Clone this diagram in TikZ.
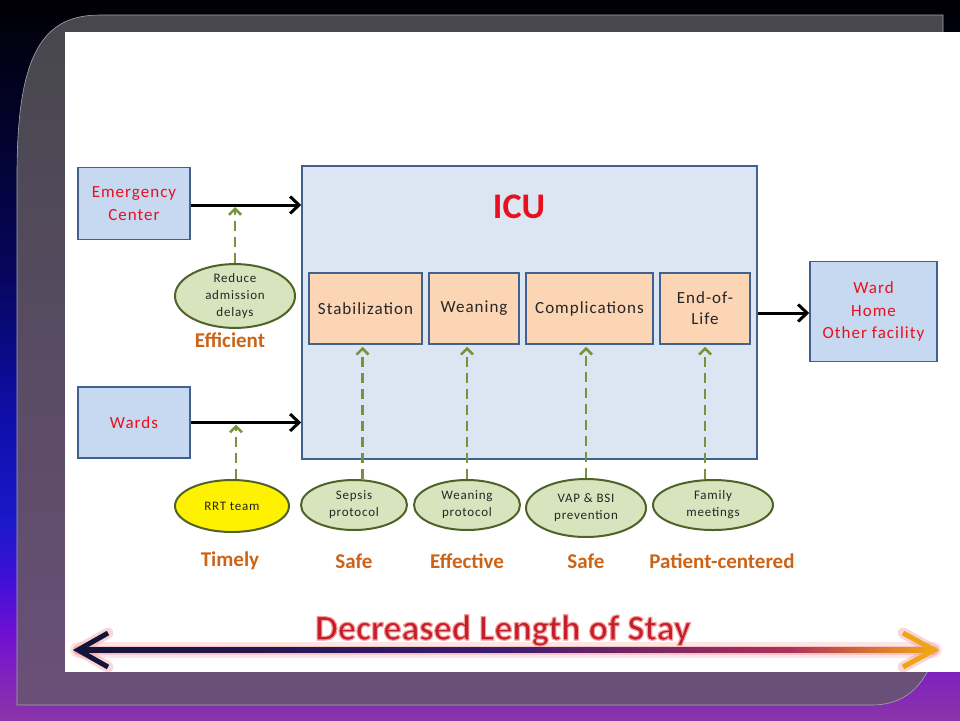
\documentclass[tikz,border=0pt]{standalone}
\usepackage{fontspec}
\setmainfont{Carlito}
\newfontfamily\spaced[LetterSpace=6]{Carlito}
\usetikzlibrary{arrows.meta,shapes.geometric,calc}
\definecolor{bg0}{HTML}{000005}
\definecolor{bg1}{HTML}{030330}
\definecolor{bg2}{HTML}{06065E}
\definecolor{bg3}{HTML}{0E0EA8}
\definecolor{bg4}{HTML}{1A18C8}
\definecolor{bg5}{HTML}{4010D8}
\definecolor{bg6}{HTML}{7010D0}
\definecolor{bg7}{HTML}{8020C0}
\definecolor{bg8}{HTML}{8A35A8}
\definecolor{frtop}{HTML}{47474D}
\definecolor{frmid}{HTML}{4A4A66}
\definecolor{frbot}{HTML}{6A5079}
\definecolor{boxline}{HTML}{41618F}
\definecolor{boxblue}{HTML}{C6D9F1}
\definecolor{icublue}{HTML}{DCE6F2}
\definecolor{peach}{HTML}{FCD5B5}
\definecolor{boxred}{HTML}{E8101E}
\definecolor{olive}{HTML}{4F6228}
\definecolor{ellgreen}{HTML}{D7E4BD}
\definecolor{dashgreen}{HTML}{77933C}
\definecolor{lblorange}{HTML}{CC6418}
\definecolor{navyA}{HTML}{14143A}
\definecolor{purpleA}{HTML}{3A1C6E}
\definecolor{magA}{HTML}{B0305A}
\definecolor{orangeA}{HTML}{F0A418}
\definecolor{glowpink}{HTML}{F08C8C}
\definecolor{dlsred}{HTML}{C41E2A}
\begin{document}
\begin{tikzpicture}[x=1pt,y=-1pt,
  bluebox/.style={draw=boxline, fill=boxblue, line width=1.5pt, text=boxred,
    font=\spaced\fontsize{17}{22.5}\selectfont, align=center, inner sep=0pt},
  stagebox/.style={draw=boxline, fill=peach, line width=1.5pt, text=black!85,
    font=\spaced\fontsize{17}{21}\selectfont, align=center, inner sep=0pt,
    minimum height=71pt},
  ell/.style={ellipse, draw=olive, fill=ellgreen, line width=2pt, inner sep=0pt,
    font=\spaced\fontsize{13}{17}\selectfont, align=center, text=black!85},
  barrow/.style={line width=3pt, -{Straight Barb[length=9pt,width=17pt]}},
  garrow/.style={dashgreen, line width=2.5pt, dash pattern=on 10pt off 6pt,
    -{Straight Barb[length=6pt,width=12pt]}, shorten >=2pt},
  qlabel/.style={font=\bfseries\fontsize{21}{24}\selectfont, text=lblorange}
]
\useasboundingbox (0,0) rectangle (960,720);
% background bands
\shade[top color=bg0, bottom color=bg1] (0,0) rectangle (960,140.5);
\shade[top color=bg1, bottom color=bg2] (0,140) rectangle (960,275.5);
\shade[top color=bg2, bottom color=bg3] (0,275) rectangle (960,413.5);
\shade[top color=bg3, bottom color=bg4] (0,413) rectangle (960,520.5);
\shade[top color=bg4, bottom color=bg5] (0,520) rectangle (960,580.5);
\shade[top color=bg5, bottom color=bg6] (0,580) rectangle (960,635.5);
\shade[top color=bg6, bottom color=bg7] (0,635) rectangle (960,672.5);
\shade[top color=bg7, bottom color=bg8] (0,672) rectangle (960,720);
% frame
\shade[top color=frtop, middle color=frmid, bottom color=frbot, draw=gray!70, line width=0.6pt]
  (17,705) -- (17,175) .. controls (17,55) and (42,15) .. (100,15) -- (943,15)
  -- (943,590) .. controls (943,660) and (922,705) .. (872,705) -- cycle;
% slide
\fill[white] (65,32) rectangle (960,672);

% boxes
\node[bluebox, minimum width=112pt, minimum height=72pt] (ec) at (134,203.5) {Emergency\\Center};
\node[bluebox, minimum width=112pt, minimum height=71pt] (wards) at (134,422.5) {Wards};
\node[draw=boxline, fill=icublue, line width=1.5pt, minimum width=455pt, minimum height=293pt, inner sep=0pt] (icu) at (529.5,312.5) {};
\node[font=\bfseries\fontsize{36}{40}\selectfont, text=boxred] (icut) at (519,207) {ICU};
\node[bluebox, minimum width=127pt, minimum height=100pt] (out) at (873.5,311.5) {Ward\\Home\\Other facility};

\node[stagebox, minimum width=113pt] (stab) at (365.5,308.5) {Stabilization};
\node[stagebox, minimum width=90pt] (wean) at (474,308.5) {Weaning};
\node[stagebox, minimum width=127pt] (comp) at (589.5,308.5) {Complications};
\node[stagebox, minimum width=90pt] (endl) at (705,308.5) {End-of-\\Life};

% ellipses
\node[ell, minimum width=120pt, minimum height=60pt] (red) at (235,296) {Reduce\\admission\\delays};
\node[ell, fill=yellow, minimum width=114pt, minimum height=52pt] (rrt) at (232,506) {RRT team};
\node[ell, minimum width=106pt, minimum height=50pt] (sep) at (354,505) {Sepsis\\protocol};
\node[ell, minimum width=106pt, minimum height=50pt] (wp) at (467,505) {Weaning\\protocol};
\node[ell, minimum width=120pt, minimum height=58pt] (vap) at (586,508) {VAP \& BSI\\prevention};
\node[ell, minimum width=120pt, minimum height=50pt] (fam) at (713,505) {Family\\meetings};

% black arrows
\draw[barrow] ([yshift=-1.5pt]ec.east) -- ([yshift=-1.5pt]ec.east -| icu.west);
\draw[barrow] (wards.east) -- (wards.east -| icu.west);
\draw[barrow] ([yshift=-1.5pt]icu.east |- out.west) -- ([yshift=-1.5pt]out.west);

% dashed arrows
\draw[garrow] (red.north) -- ([yshift=-1.5pt]red.north |- ec.east);
\draw[garrow] ($(rrt.north)+(4,0)$) -- ($(rrt.north |- wards.east)+(4,0)$);
\draw[garrow] ($(stab.south |- sep.north)+(-3,0)$) -- ($(stab.south)+(-3,0)$);
\draw[garrow] (wp.north) -- (wp.north |- wean.south);
\draw[garrow] (vap.north) -- (vap.north |- comp.south);
\draw[garrow] (endl.south |- fam.north) -- (endl.south);

% quality labels
\node[qlabel] (effi) at (230,340) {Efficient};
\node[qlabel] (time) at (230,561) {Timely};
\node[qlabel] (safe1) at (354,561) {Safe};
\node[qlabel] (effe) at (467,561) {Effective};
\node[qlabel] (safe2) at (586,561) {Safe};
\node[qlabel] (pcen) at (722,561) {Patient-centered};

% bottom double arrow
\coordinate (dl) at (78,650);
\coordinate (dr) at (934,650);
\coordinate (dm1) at (500,650);
\coordinate (dm2) at (790,650);
\draw[glowpink, opacity=0.22, line width=16pt, line cap=round] (dl) -- (dr);
\draw[glowpink, opacity=0.35, line width=9pt, line cap=round] (dl) -- (dr);
\draw[glowpink, opacity=0.35, line width=11pt, line join=round, line cap=round] ($(dl)+(30,-17)$) -- (dl) -- ($(dl)+(30,17)$);
\draw[glowpink, opacity=0.35, line width=11pt, line join=round, line cap=round] ($(dr)+(-31,-17)$) -- (dr) -- ($(dr)+(-31,17)$);
\shade[left color=navyA, right color=purpleA] ($(dl)+(2,-2.5)$) rectangle ($(dm1)+(0.5,2.5)$);
\shade[left color=purpleA, right color=magA] ($(dm1)+(0,-2.5)$) rectangle ($(dm2)+(0.5,2.5)$);
\shade[left color=magA, right color=orangeA] ($(dm2)+(0,-2.5)$) rectangle ($(dr)+(-2,2.5)$);
\draw[navyA, line width=5pt, line join=miter] ($(dl)+(30,-17)$) -- (dl) -- ($(dl)+(30,17)$);
\draw[orangeA, line width=5pt, line join=miter] ($(dr)+(-31,-17)$) -- (dr) -- ($(dr)+(-31,17)$);

% Decreased Length of Stay
\node[font=\bfseries\fontsize{36}{40}\selectfont, text=dlsred, anchor=base] (dls) at (503,640)
  {\special{pdf:literal direct 2 Tr 1.1 w 0.96 0.62 0.62 RG}Decreased Length of Stay\special{pdf:literal direct 0 Tr}};
\end{tikzpicture}
\end{document}
